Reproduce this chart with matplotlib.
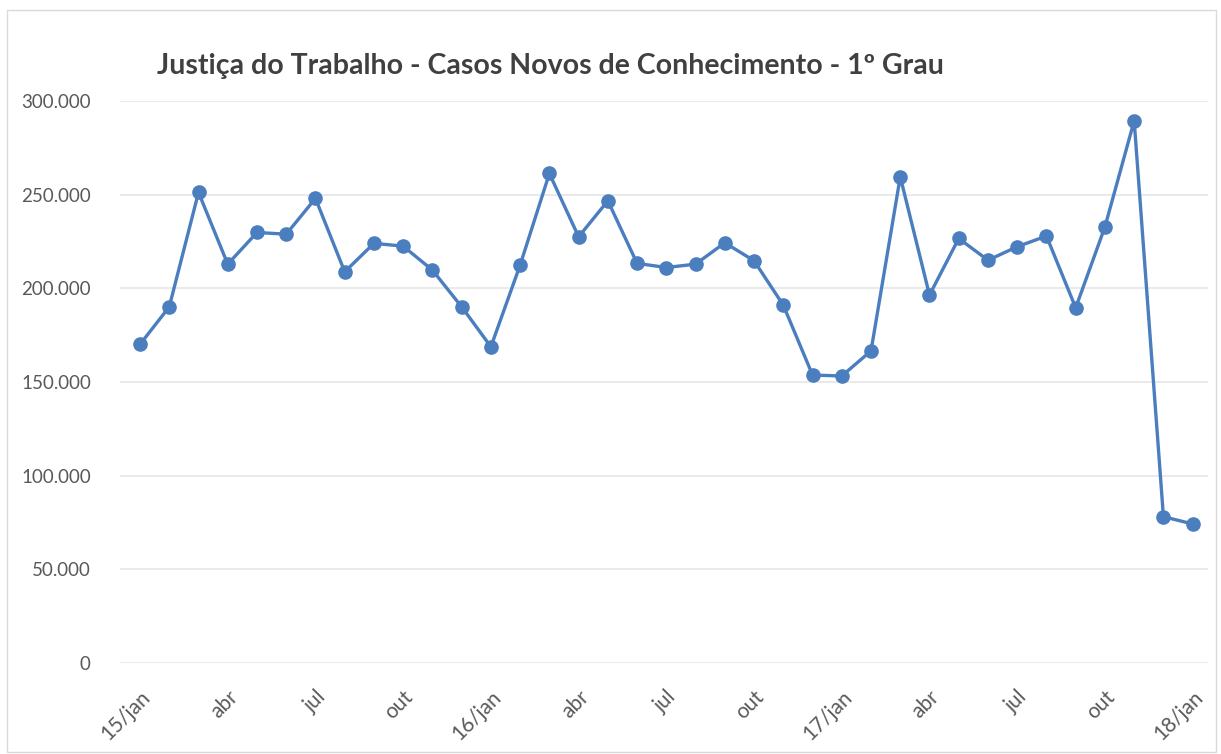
import matplotlib.pyplot as plt
from matplotlib.ticker import FuncFormatter
from matplotlib.patches import Rectangle

plt.rcParams['font.family'] = ['Lato', 'DejaVu Sans']

title = 'Justiça do Trabalho - Casos Novos de Conhecimento - 1º Grau'
# monthly values, jan/2015 .. jan/2018
casos = [
	170.1, 190.1, 251.2, 212.9, 229.8, 228.9, 248.0, 208.8, 224.0, 222.5, 209.7, 190.1,
	168.8, 212.4, 261.3, 227.5, 246.7, 213.3, 211.1, 212.9, 224.3, 214.7, 191.0, 153.7,
	153.2, 166.6, 259.5, 196.4, 226.6, 215.0, 222.2, 227.9, 189.6, 232.8, 289.4, 78.1,
	74.2,
]
casos = [v * 1000 for v in casos]
tick_labels = ['15/jan', 'abr', 'jul', 'out', '16/jan', 'abr', 'jul', 'out',
	'17/jan', 'abr', 'jul', 'out', '18/jan']
yticks = [0, 50000, 100000, 150000, 200000, 250000, 300000]

blue = '#4A7EBF'
grey_text = '#595959'

fig = plt.figure(figsize=(12.21, 7.54), dpi=100)
ax = fig.add_axes([0.0983, 0.1207, 0.8907, 0.7454])

# chart border
fig.patches.append(Rectangle((0.006, 0.003), 0.99, 0.984, transform=fig.transFigure,
	fill=False, edgecolor='#d9d9d9', linewidth=1))

x = list(range(len(casos)))
ax.plot(x, casos, color=blue, linewidth=2.4, marker='o', markersize=9.5, zorder=3)

ax.set_xlim(-0.684, 36.51)
ax.set_ylim(0, 300000)
ax.set_yticks(yticks)
ax.yaxis.set_major_formatter(FuncFormatter(lambda v, p: '0' if v == 0 else f'{int(v):,}'.replace(',', '.')))
ax.set_xticks(range(0, len(casos), 3))
ax.set_xticklabels(tick_labels, rotation=45, ha='right', va='top', rotation_mode='anchor')

ax.grid(axis='y', color='#e6e6e6', linewidth=1.2)
ax.set_axisbelow(True)
for s in ax.spines.values():
	s.set_visible(False)
ax.tick_params(length=0, labelsize=13.5, colors=grey_text)
ax.tick_params(axis='x', labelsize=15, pad=17)
ax.tick_params(axis='y', pad=21)

fig.text(0.1285, 0.902, title, fontsize=20.5, fontweight='bold', color='#404040')

fig.savefig('out.png', dpi=100)
